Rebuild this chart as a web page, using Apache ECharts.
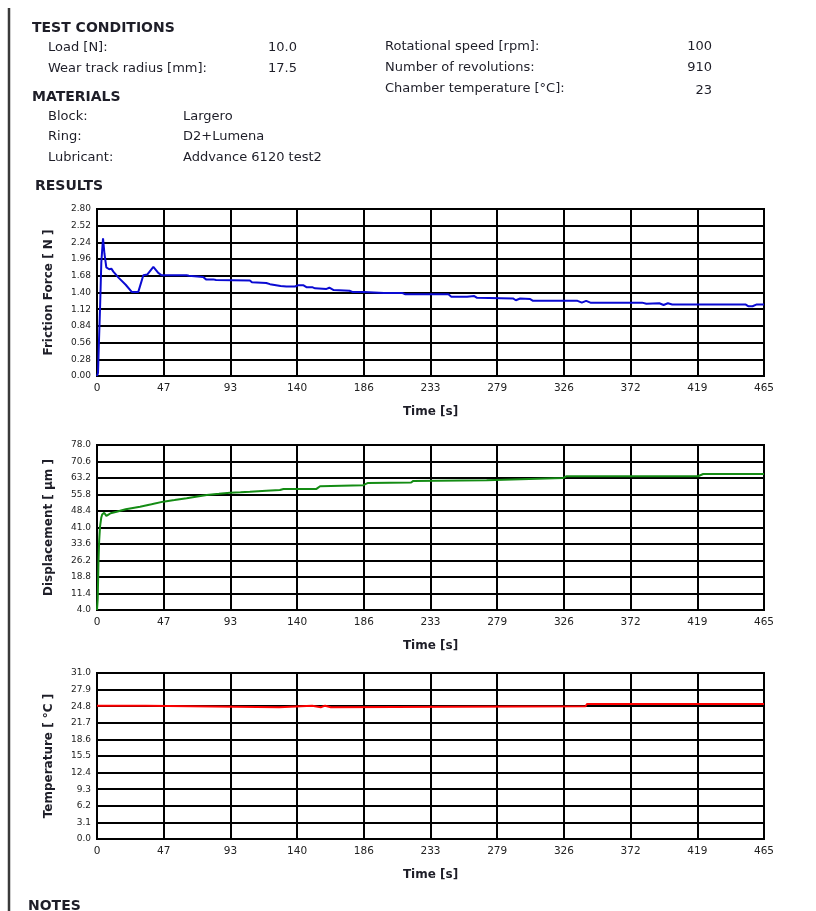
<!DOCTYPE html>
<html>
<head>
<meta charset="utf-8">
<title>Block-on-ring test report</title>
<script src="https://cdn.jsdelivr.net/npm/echarts@6/dist/echarts.min.js"></script>
<style>
  html, body { margin: 0; padding: 0; background: #fff; }
  #chart { width: 816px; height: 911px; }
</style>
</head>
<body>
<div id="chart"></div>
<script>
// ---- Time axis (shared by all three plots) ----
const timeMax = 465;
const timeStep = 46.5;

// ---- Friction force [N] ----
const frictionTime = [0, 0.7, 1.4, 2.2, 3.0, 4.2, 5.2, 6.5, 8.5, 10.0, 11.4, 15, 20, 24.2, 28.8, 32.3, 35.0, 39.3, 42.7, 45.0, 62.5, 64.0, 74.0, 76.0, 81.0, 83.0, 106.6, 108.0, 118.0, 120.6, 128.0, 132.0, 138.0, 140.0, 144.0, 146.0, 150.0, 152.0, 160.0, 162.0, 165.0, 176.0, 178.0, 186.0, 200.0, 213.0, 215.0, 245.0, 247.0, 255.0, 256.0, 258.0, 263.0, 265.0, 290.0, 292.0, 295.0, 302.0, 304.0, 335.0, 338.0, 341.0, 344.0, 380.0, 383.0, 392.0, 395.0, 398.0, 401.0, 452.0, 454.0, 457.0, 460.0, 465.0];
const frictionForce = [0.00, 0.05, 0.60, 1.20, 1.90, 2.31, 2.05, 1.82, 1.79, 1.80, 1.75, 1.65, 1.53, 1.41, 1.41, 1.69, 1.70, 1.83, 1.73, 1.69, 1.69, 1.68, 1.66, 1.62, 1.62, 1.61, 1.60, 1.57, 1.56, 1.54, 1.51, 1.50, 1.50, 1.52, 1.52, 1.49, 1.49, 1.47, 1.46, 1.48, 1.44, 1.43, 1.41, 1.41, 1.39, 1.39, 1.37, 1.37, 1.33, 1.33, 1.35, 1.33, 1.34, 1.31, 1.30, 1.27, 1.30, 1.29, 1.26, 1.26, 1.23, 1.26, 1.23, 1.23, 1.21, 1.22, 1.19, 1.22, 1.20, 1.20, 1.17, 1.17, 1.20, 1.20];

// ---- Displacement [µm] ----
const dispTime = [0, 0.5, 1.0, 1.5, 2.1, 3.0, 3.6, 5.0, 6.5, 8.0, 9.5, 13.7, 20.0, 30.0, 38.0, 46.2, 54.0, 62.5, 70.0, 76.5, 85.0, 92.7, 100.0, 106.6, 118.0, 127.5, 130.0, 153.0, 155.5, 185.6, 189.0, 219.0, 220.5, 271.6, 272.7, 325.0, 327.4, 419.0, 422.6, 465.0];
const displacement = [4.0, 9.0, 25.0, 35.0, 41.4, 45.5, 46.8, 47.6, 46.2, 46.8, 47.4, 48.1, 49.2, 50.3, 51.4, 52.6, 53.3, 54.1, 54.9, 55.6, 56.1, 56.6, 56.8, 57.0, 57.5, 57.8, 58.3, 58.3, 59.5, 60.0, 61.0, 61.2, 61.9, 62.2, 62.9, 63.2, 64.0, 64.0, 65.0, 65.0];

// ---- Temperature [°C] ----
const tempTime = [0, 34.0, 35.0, 127.0, 128.0, 150.0, 151.0, 156.0, 157.0, 159.0, 160.0, 163.0, 164.0, 340.6, 341.6, 465.0];
const temperature = [24.9, 24.9, 24.6, 24.6, 24.9, 24.9, 24.6, 24.6, 24.9, 24.9, 24.6, 24.6, 24.8, 24.8, 25.2, 25.2];

// ---- Value-axis ranges ----
const frictionAxis = { min: 0, max: 2.8, step: 0.28, digits: 2 };
const dispAxis = { min: 4.0, max: 78.0, step: 7.4, digits: 1 };
const tempAxis = { min: 0, max: 31.0, step: 3.1, digits: 1 };

// ---- Header texts ----
const testConditionsLeft = [["Load [N]:", "10.0"], ["Wear track radius [mm]:", "17.5"]];
const testConditionsRight = [["Rotational speed [rpm]:", "100"], ["Number of revolutions:", "910"], ["Chamber temperature [°C]:", "23"]];
const materials = [["Block:", "Largero"], ["Ring:", "D2+Lumena"], ["Lubricant:", "Addvance 6120 test2"]];

const pairs = (xs, ys) => xs.map((x, i) => [x, ys[i]]);

const FONT = '"DejaVu Sans", "Liberation Sans", Arial, sans-serif';
const TXT = '#1e1e28';

const plotLeft = 97, plotWidth = 667;
const grids = [
  { left: plotLeft, top: 209, width: plotWidth, height: 167 },
  { left: plotLeft, top: 445, width: plotWidth, height: 165 },
  { left: plotLeft, top: 673, width: plotWidth, height: 166 }
].map(g => Object.assign({ show: true, borderColor: '#000', borderWidth: 2, backgroundColor: '#fff', containLabel: false }, g));

function xAxisFor(idx) {
  return {
    type: 'value', gridIndex: idx, min: 0, max: timeMax, interval: timeStep,
    name: 'Time [s]', nameLocation: 'middle', nameGap: 30,
    nameTextStyle: { fontFamily: FONT, fontSize: 12, fontWeight: 'bold', color: TXT },
    axisLine: { show: true, lineStyle: { color: '#000', width: 2 } },
    axisTick: { show: false },
    axisLabel: { fontFamily: FONT, fontSize: 10.5, color: '#222', margin: 7, formatter: v => String(Math.round(v)) },
    splitLine: { show: true, lineStyle: { color: '#000', width: 2 } }
  };
}

function yAxisFor(idx, ax, name) {
  return {
    type: 'value', gridIndex: idx, min: ax.min, max: ax.max, interval: ax.step,
    name: name, nameLocation: 'middle', nameGap: 42, nameRotate: 90,
    nameTextStyle: { fontFamily: FONT, fontSize: 12, fontWeight: 'bold', color: TXT },
    axisLine: { show: true, lineStyle: { color: '#000', width: 2 } },
    axisTick: { show: false },
    axisLabel: { fontFamily: FONT, fontSize: 9, color: '#222', margin: 6, formatter: v => v.toFixed(ax.digits) },
    splitLine: { show: true, lineStyle: { color: '#000', width: 2 } }
  };
}

function lineSeries(idx, data, color) {
  return {
    type: 'line', xAxisIndex: idx, yAxisIndex: idx, data: data,
    showSymbol: false, symbol: 'none', animation: false,
    lineStyle: { color: color, width: 2 }, z: 3
  };
}

// ---- Header drawn as graphic text ----
const graphics = [];
function addText(text, x, y, opts) {
  graphics.push({
    type: 'text', x: x, y: y, silent: true,
    style: Object.assign({
      text: text, fill: TXT, font: '13px ' + FONT,
      align: 'left', verticalAlign: 'middle'
    }, opts || {})
  });
}
const boldFont = 'bold 14px ' + FONT;

// page margin rule
graphics.push({ type: 'line', silent: true, shape: { x1: 9, y1: 8, x2: 9, y2: 911 }, style: { stroke: '#3a3a3a', lineWidth: 2.5 } });

addText('TEST CONDITIONS', 32, 28, { font: boldFont });
testConditionsLeft.forEach((row, i) => {
  const y = 48 + i * 21;
  addText(row[0], 48, y);
  addText(row[1], 268, y);
});
testConditionsRight.forEach((row, i) => {
  const y = 47 + i * 21;
  addText(row[0], 385, y);
  addText(row[1], 712, y + (i === 2 ? 2 : 0), { align: 'right' });
});
addText('MATERIALS', 32, 97, { font: boldFont });
materials.forEach((row, i) => {
  const y = [117, 137, 158][i];
  addText(row[0], 48, y);
  addText(row[1], 183, y);
});
addText('RESULTS', 35, 186, { font: boldFont });
addText('NOTES', 28, 906, { font: boldFont });

const chart = echarts.init(document.getElementById('chart'), null, { renderer: 'canvas' });
chart.setOption({
  animation: false,
  backgroundColor: '#fff',
  grid: grids,
  xAxis: [xAxisFor(0), xAxisFor(1), xAxisFor(2)],
  yAxis: [
    yAxisFor(0, frictionAxis, 'Friction Force [ N ]'),
    yAxisFor(1, dispAxis, 'Displacement [ µm ]'),
    yAxisFor(2, tempAxis, 'Temperature [ °C ]')
  ],
  series: [
    lineSeries(0, pairs(frictionTime, frictionForce), '#0a0ad2'),
    lineSeries(1, pairs(dispTime, displacement), '#148c14'),
    lineSeries(2, pairs(tempTime, temperature), '#ff0000')
  ],
  graphic: graphics
});
</script>
</body>
</html>
